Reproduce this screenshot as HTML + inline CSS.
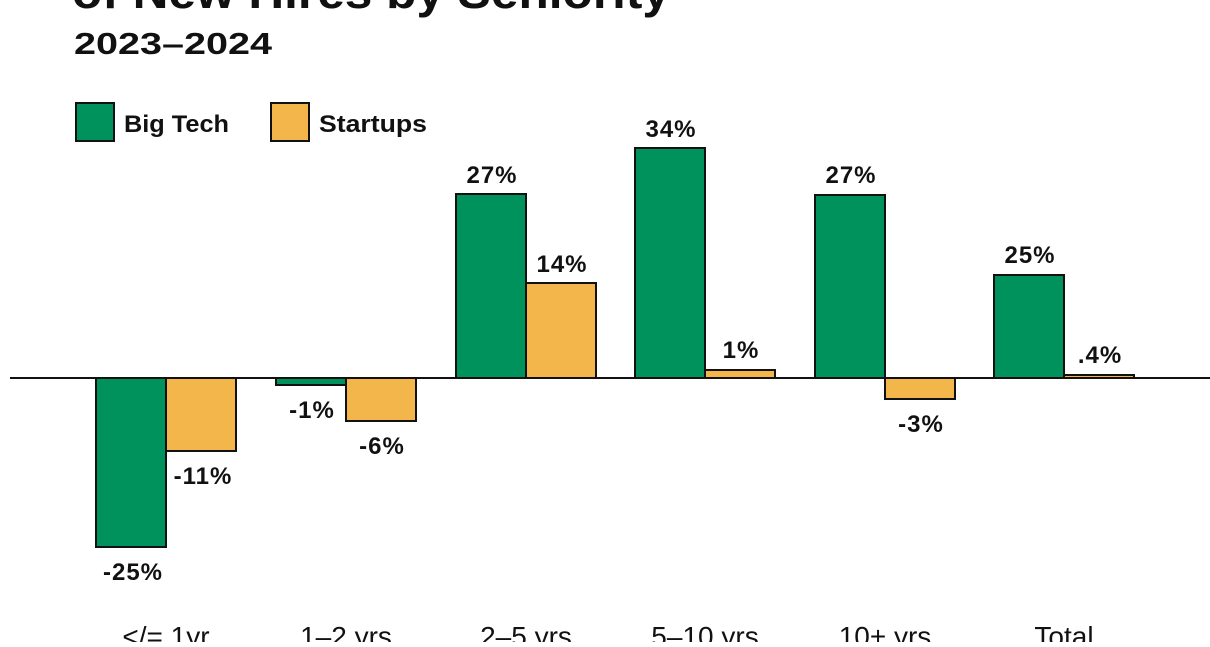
<!DOCTYPE html>
<html><head><meta charset="utf-8"><style>
body{margin:0;background:#fff;}
svg text{font-family:"Liberation Sans",sans-serif;font-weight:bold;fill:#111;}
</style></head><body>
<svg width="1210" height="642" viewBox="0 0 1210 642">
<text x="72" y="8" font-size="46" textLength="598" lengthAdjust="spacingAndGlyphs">of New Hires by Seniority</text>
<text x="74" y="54" font-size="31" textLength="198" lengthAdjust="spacingAndGlyphs">2023–2024</text>
<rect x="76" y="103" width="38" height="38" fill="#00925c" stroke="#111" stroke-width="2"/>
<text x="124" y="132" font-size="24" textLength="105" lengthAdjust="spacingAndGlyphs">Big Tech</text>
<rect x="271" y="103" width="38" height="38" fill="#f3b64a" stroke="#111" stroke-width="2"/>
<text x="319" y="132" font-size="24" textLength="108" lengthAdjust="spacingAndGlyphs">Startups</text>
<g stroke="#111" stroke-width="2">
<rect x="96" y="378" width="70" height="169" fill="#00925c"/>
<rect x="166" y="378" width="70" height="73" fill="#f3b64a"/>
<rect x="276" y="378" width="70" height="7" fill="#00925c"/>
<rect x="346" y="378" width="70" height="43" fill="#f3b64a"/>
<rect x="456" y="194" width="70" height="184" fill="#00925c"/>
<rect x="526" y="283" width="70" height="95" fill="#f3b64a"/>
<rect x="635" y="148" width="70" height="230" fill="#00925c"/>
<rect x="705" y="370" width="70" height="8" fill="#f3b64a"/>
<rect x="815" y="195" width="70" height="183" fill="#00925c"/>
<rect x="885" y="378" width="70" height="21" fill="#f3b64a"/>
<rect x="994" y="275" width="70" height="103" fill="#00925c"/>
<rect x="1064" y="375" width="70" height="3" fill="#f3b64a"/>
</g>
<line x1="10" y1="378" x2="1210" y2="378" stroke="#111" stroke-width="2"/>
<g font-size="24" text-anchor="middle" letter-spacing="1">
<text x="133" y="580">-25%</text>
<text x="203" y="484">-11%</text>
<text x="312" y="418">-1%</text>
<text x="382" y="454">-6%</text>
<text x="492" y="183">27%</text>
<text x="562" y="272">14%</text>
<text x="671" y="137">34%</text>
<text x="741" y="358">1%</text>
<text x="851" y="183">27%</text>
<text x="921" y="432">-3%</text>
<text x="1030" y="263">25%</text>
<text x="1100" y="363">.4%</text>
</g>
<g font-size="28" text-anchor="middle">
<text x="166" y="646" style="font-weight:normal">&lt;/= 1yr</text>
<text x="346" y="646" style="font-weight:normal">1–2 yrs</text>
<text x="526" y="646" style="font-weight:normal">2–5 yrs</text>
<text x="705" y="646" style="font-weight:normal">5–10 yrs</text>
<text x="885" y="646" style="font-weight:normal">10+ yrs</text>
<text x="1064" y="646" style="font-weight:normal">Total</text>
</g>
</svg>
</body></html>
